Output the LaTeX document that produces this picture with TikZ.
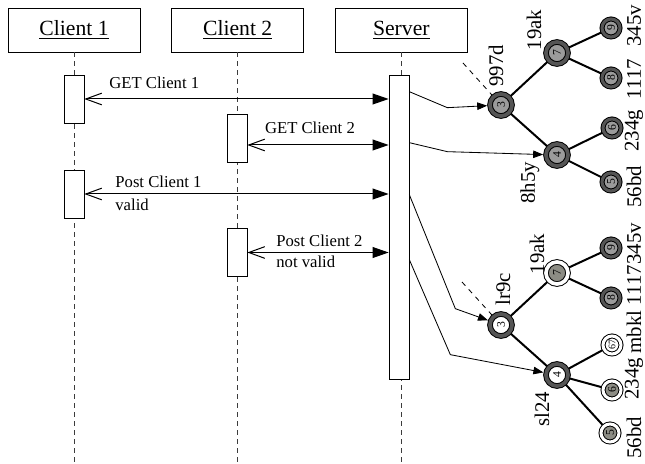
\documentclass[tikz,border=0pt]{standalone}
\usepackage{fontspec}
\setmainfont{Liberation Serif}
\usetikzlibrary{positioning,arrows.meta,calc,backgrounds}
\definecolor{ringgray}{RGB}{85,85,85}
\definecolor{coregray}{RGB}{155,155,155}
\definecolor{leafgray}{RGB}{140,140,132}
\definecolor{lifecolor}{RGB}{60,60,60}

\begin{document}
\begin{tikzpicture}[
    x=0.6pt, y=-0.6pt,
    node distance=18.6pt,
    head/.style={rectangle, draw, minimum width=79.2pt, minimum height=26.4pt, font=\fontsize{13}{15}\selectfont},
    act/.style={rectangle, draw, fill=white, minimum width=12pt, minimum height=28.8pt, inner sep=0pt},
    life/.style={dash pattern=on 3pt off 2.4pt, line width=0.6pt, lifecolor},
    msg/.style={{Straight Barb[length=9.6pt,width=7pt]}-{Triangle[length=9.6pt,width=6.5pt]}, line width=0.6pt},
    msglabel/.style={font=\fontsize{10}{12}\selectfont, inner sep=1pt},
    link/.style={-{Triangle[length=6pt,width=4.5pt]}, line width=0.5pt, shorten >=1.4pt},
    tnode/.style={circle, draw, line width=0.6pt, double distance=2.2pt, minimum size=13.2pt, inner sep=0pt, rotate=90, font=\fontsize{7}{7}\selectfont},
    leaf/.style={tnode, minimum size=10.8pt, double distance=1.8pt},
    full/.style={double=ringgray, fill=coregray},
    hollow/.style={double=ringgray, fill=white},
    fresh/.style={double=white, fill=leafgray},
    blank/.style={double=white, fill=white},
    edge/.style={line width=1.2pt},
    tlabel/.style={rotate=90, font=\fontsize{12.5}{13}\selectfont, inner sep=0pt}
]
\useasboundingbox (0,0) rectangle (645,464);

% ===== HEADERS =====
\node[head] (c1) at (74,30) {\underline{Client 1}};
\node[head, right=of c1] (c2) {\underline{Client 2}};
\node[head, right=of c2] (srvhead) {\underline{Server}};

% ===== LIFELINES =====
\coordinate (floor) at (0,464);
\draw[life] (c1.south) -- (c1.south |- floor);
\draw[life] (c2.south) -- (c2.south |- floor);
\draw[life] (srvhead.south) -- (srvhead.south |- floor);

% ===== ACTIVATIONS =====
\node[act] (c1a) at (74,99) {};
\node[act] (c2a) at (237,138) {};
\node[act] (c1b) at (74,194) {};
\node[act] (c2b) at (237,252.5) {};
\node[act, minimum height=182.4pt] (srv) at (399,227) {};

% ===== MESSAGES =====
\draw[msg] (c1a.east) -- node[msglabel, pos=0.075, anchor=south west, yshift=5pt] {GET Client 1} (c1a.east -| srv.west);
\draw[msg] ($(c2a.east)+(0,7)$) -- node[msglabel, pos=0.11, anchor=south west, yshift=5.5pt] {GET Client 2} ($(c2a.east -| srv.west)+(0,7)$);
\draw[msg] (c1b.east) -- node[msglabel, pos=0.095, anchor=south west, yshift=2.6pt] {Post Client 1}
                         node[msglabel, pos=0.095, anchor=north west, yshift=-1.5pt] {valid} (c1b.east -| srv.west);
\draw[msg] (c2b.east) -- node[msglabel, pos=0.19, anchor=south west, yshift=2pt] {Post Client 2}
                         node[msglabel, pos=0.19, anchor=north west, yshift=-1pt] {not valid} (c2b.east -| srv.west);

% ===== TREE 1 =====
\node[tnode, full] (t1r) at (501,105) {3};
\node[tnode, full] (t1a) at (557,53) {7};
\node[tnode, full] (t1b) at (557,155) {4};
\node[leaf, full] (t1a9) at (611,28) {9};
\node[leaf, full] (t1a8) at (611,78) {8};
\node[leaf, full] (t1b6) at (612,128) {6};
\node[leaf, full] (t1b5) at (611,182) {5};
\coordinate (t1up) at (463,63);

\node[tlabel] (l1r) at (496,66) {997d};
\node[tlabel] (l1a) at (534,30) {19ak};
\node[tlabel] (l1b) at (530,183) {8h5y};
\node[tlabel] (l1a9) at (634,26) {345v};
\node[tlabel] (l1a8) at (634,79) {1117};
\node[tlabel] (l1b6) at (634,131) {234g};
\node[tlabel] (l1b5) at (634,187) {56bd};

% ===== TREE 2 =====
\node[tnode, hollow] (t2r) at (501,325) {3};
\node[tnode, fresh] (t2a) at (557,273) {7};
\node[tnode, hollow] (t2b) at (557,375) {4};
\node[leaf, full] (t2a9) at (611,248) {9};
\node[leaf, full] (t2a8) at (611,298) {8};
\node[leaf, blank, font=\fontsize{6}{6}\selectfont] (t2b67) at (612,345) {67};
\node[leaf, fresh] (t2b6) at (612,390) {6};
\node[leaf, fresh] (t2b5) at (610,433) {5};
\coordinate (t2up) at (462,282);

\node[tlabel] (l2r) at (503,289) {lr9c};
\node[tlabel] (l2a) at (537,254) {19ak};
\node[tlabel] (l2b) at (542,409) {sl24};
\node[tlabel] (l2a9) at (634,244) {345v};
\node[tlabel] (l2a8) at (634,285) {1117};
\node[tlabel] (l2b67) at (634,332) {mbkl};
\node[tlabel] (l2b6) at (634,379) {234g};
\node[tlabel] (l2b5) at (634,438) {56bd};

% ===== TREE EDGES =====
\begin{pgfonlayer}{background}
    \draw[edge] (t1r) -- (t1a);
    \draw[edge] (t1r) -- (t1b);
    \draw[edge] (t1a) -- (t1a9);
    \draw[edge] (t1a) -- (t1a8);
    \draw[edge] (t1b) -- (t1b6);
    \draw[edge] (t1b) -- (t1b5);
    \draw[edge] (t2r) -- (t2a);
    \draw[edge] (t2r) -- (t2b);
    \draw[edge] (t2a) -- (t2a9);
    \draw[edge] (t2a) -- (t2a8);
    \draw[edge] (t2b) -- (t2b67);
    \draw[edge] (t2b) -- (t2b6);
    \draw[edge] (t2b) -- (t2b5);
    \draw[dashed, line width=0.5pt] (t1up) -- (t1r);
    \draw[dashed, line width=0.5pt] (t2up) -- (t2r);
\end{pgfonlayer}

% ===== SERVER TO TREES =====
\draw[link] ($(srv.north east)+(0,17)$) -- ++(38,16) -- (t1r);
\draw[link] ($(srv.north east)+(0,68)$) -- ++(38,9) -- (t1b);
\draw[link] ($(srv.north east)+(0,120)$) -- ++(46,114) -- (t2r);
\draw[link] ($(srv.north east)+(0,185)$) -- ++(41,95) -- (t2b);

\end{tikzpicture}
\end{document}
